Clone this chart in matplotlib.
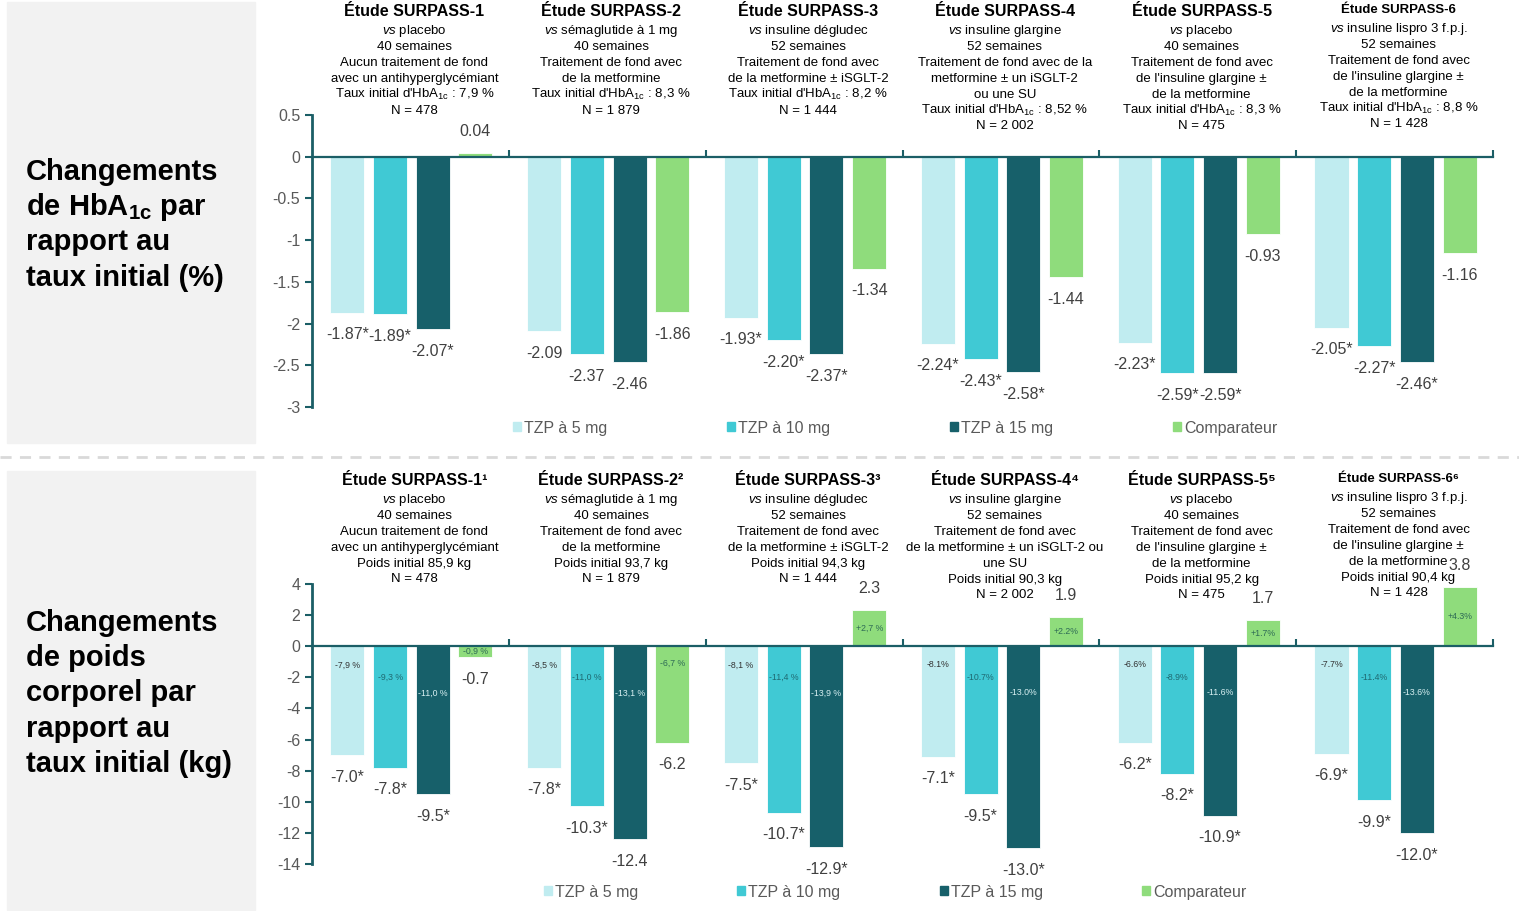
import numpy as np
import matplotlib.pyplot as plt
from matplotlib.patches import Rectangle, Patch
from matplotlib.lines import Line2D
from matplotlib.transforms import blended_transform_factory

plt.rcParams['font.family'] = ['Liberation Sans', 'DejaVu Sans']
plt.rcParams['mathtext.fontset'] = 'custom'
plt.rcParams['mathtext.rm'] = 'Liberation Sans'
plt.rcParams['mathtext.it'] = 'Liberation Sans:italic'
plt.rcParams['mathtext.bf'] = 'Liberation Sans:bold'
plt.rcParams['axes.unicode_minus'] = False

# data
series = ['TZP à 5 mg', 'TZP à 10 mg', 'TZP à 15 mg', 'Comparateur']
colors = ['#c0ecf0', '#40c9d4', '#17606a', '#8fdc7c']

hba1c = [
    [-1.87, -1.89, -2.07, 0.04],
    [-2.09, -2.37, -2.46, -1.86],
    [-1.93, -2.20, -2.37, -1.34],
    [-2.24, -2.43, -2.58, -1.44],
    [-2.23, -2.59, -2.59, -0.93],
    [-2.05, -2.27, -2.46, -1.16],
]
hba1c_sig = [
    [1, 1, 1, 0],
    [0, 0, 0, 0],
    [1, 1, 1, 0],
    [1, 1, 1, 0],
    [1, 1, 1, 0],
    [1, 1, 1, 0],
]
weight = [
    [-7.0, -7.8, -9.5, -0.7],
    [-7.8, -10.3, -12.4, -6.2],
    [-7.5, -10.7, -12.9, 2.3],
    [-7.1, -9.5, -13.0, 1.9],
    [-6.2, -8.2, -10.9, 1.7],
    [-6.9, -9.9, -12.0, 3.8],
]
weight_sig = [
    [1, 1, 1, 0],
    [1, 1, 0, 0],
    [1, 1, 1, 0],
    [1, 1, 1, 0],
    [1, 1, 1, 0],
    [1, 1, 1, 0],
]
weight_pct = [
    ['-7,9 %', '-9,3 %', '-11,0 %', '-0,9 %'],
    ['-8,5 %', '-11,0 %', '-13,1 %', '-6,7 %'],
    ['-8,1 %', '-11,4 %', '-13,9 %', '+2,7 %'],
    ['-8.1%', '-10.7%', '-13.0%', '+2.2%'],
    ['-6.6%', '-8.9%', '-11.6%', '+1.7%'],
    ['-7.7%', '-11.4%', '-13.6%', '+4.3%'],
]

vs = r'$\it{vs}$ '
hb = r"Taux initial d'HbA$_{\mathrm{1c}}$ : "
top_titles = ['Étude SURPASS-1', 'Étude SURPASS-2', 'Étude SURPASS-3',
              'Étude SURPASS-4', 'Étude SURPASS-5', 'Étude SURPASS-6']
bot_titles = ['Étude SURPASS-1¹', 'Étude SURPASS-2²', 'Étude SURPASS-3³',
              'Étude SURPASS-4⁴', 'Étude SURPASS-5⁵', 'Étude SURPASS-6⁶']
top_headers = [
    [vs + 'placebo', '40 semaines', 'Aucun traitement de fond', 'avec un antihyperglycémiant', hb + '7,9 %', 'N = 478'],
    [vs + 'sémaglutide à 1 mg', '40 semaines', 'Traitement de fond avec', 'de la metformine', hb + '8,3 %', 'N = 1 879'],
    [vs + 'insuline dégludec', '52 semaines', 'Traitement de fond avec', 'de la metformine ± iSGLT-2', hb + '8,2 %', 'N = 1 444'],
    [vs + 'insuline glargine', '52 semaines', 'Traitement de fond avec de la', 'metformine ± un iSGLT-2', 'ou une SU', hb + '8,52 %', 'N = 2 002'],
    [vs + 'placebo', '40 semaines', 'Traitement de fond avec', "de l'insuline glargine ±", 'de la metformine', hb + '8,3 %', 'N = 475'],
    [vs + 'insuline lispro 3 f.p.j.', '52 semaines', 'Traitement de fond avec', "de l'insuline glargine ±", 'de la metformine', hb + '8,8 %', 'N = 1 428'],
]
bot_headers = [
    [vs + 'placebo', '40 semaines', 'Aucun traitement de fond', 'avec un antihyperglycémiant', 'Poids initial 85,9 kg', 'N = 478'],
    [vs + 'sémaglutide à 1 mg', '40 semaines', 'Traitement de fond avec', 'de la metformine', 'Poids initial 93,7 kg', 'N = 1 879'],
    [vs + 'insuline dégludec', '52 semaines', 'Traitement de fond avec', 'de la metformine ± iSGLT-2', 'Poids initial 94,3 kg', 'N = 1 444'],
    [vs + 'insuline glargine', '52 semaines', 'Traitement de fond avec', 'de la metformine ± un iSGLT-2 ou', 'une SU', 'Poids initial 90,3 kg', 'N = 2 002'],
    [vs + 'placebo', '40 semaines', 'Traitement de fond avec', "de l'insuline glargine ±", 'de la metformine', 'Poids initial 95,2 kg', 'N = 475'],
    [vs + 'insuline lispro 3 f.p.j.', '52 semaines', 'Traitement de fond avec', "de l'insuline glargine ±", 'de la metformine', 'Poids initial 90,4 kg', 'N = 1 428'],
]

W, H = 1519, 911
fig = plt.figure(figsize=(W / 100, H / 100), dpi=100)
teal = '#1b5e66'
grey = '#595959'
dark = '#404040'

def px(x0, y0, x1, y1):
    return [x0 / W, 1 - y1 / H, (x1 - x0) / W, (y1 - y0) / H]

# grey side panels and separator
for y0, y1 in [(2, 443), (471, 910)]:
    fig.patches.append(Rectangle((7 / W, 1 - y1 / H), 248 / W, (y1 - y0) / H,
                                 transform=fig.transFigure, color='#f2f2f2', zorder=0))
fig.add_artist(Line2D([0, 1], [1 - 457 / H] * 2, transform=fig.transFigure,
                      color='#d9d9d9', lw=2, ls=(0, (4, 3))))

def side_text(lines, y_first):
    for i, t in enumerate(lines):
        fig.text(26 / W, 1 - (y_first + i * 35.2) / H, t, fontsize=21,
                 fontweight='bold', ha='left', va='center', color='black')

side_text(['Changements', r'de HbA$_{\mathbf{1c}}$ par', 'rapport au', 'taux initial (%)'], 172)
side_text(['Changements', 'de poids', 'corporel par', 'rapport au', 'taux initial (kg)'], 623)

step = 0.217
bw = 0.173
xg = np.arange(6) + 0.505

def draw(ax, vals, sig, fmt, ylim, yticks, pct=None):
    vals = np.array(vals)
    for k in range(4):
        xs = xg + (k - 1.5) * step
        ax.bar(xs, vals[:, k], bw, color=colors[k], edgecolor='white', lw=0.6, zorder=2)
        for g in range(6):
            v = vals[g, k]
            lab = fmt.format(v) + ('*' if sig[g][k] else '')
            off = 15.5 if v > 0 else -16
            ax.annotate(lab, (xs[g], v), xytext=(0, off), textcoords='offset points',
                        ha='center', va='center', fontsize=11.5, color=dark)
            if pct is not None:
                if v > 0:
                    yy = v / 2
                elif k == 3:
                    yy = max(v / 2, -1.1)
                else:
                    yy = [-1.2, -2.0, -3.0][k]
                tc = ['#333333', '#1f6a72', '#d8f0f2', '#2e6b55'][k]
                ax.text(xs[g], yy, pct[g][k], ha='center', va='center',
                        fontsize=6.3, color=tc, zorder=3)
    ax.set_xlim(0, 6)
    ax.set_ylim(*ylim)
    ax.set_yticks(yticks)
    ax.set_yticklabels(['{:g}'.format(t) for t in yticks])
    ax.set_xticks(np.arange(1, 7))
    ax.set_xticklabels([])
    for s in ['top', 'right']:
        ax.spines[s].set_visible(False)
    ax.spines['bottom'].set_position(('data', 0))
    ax.spines['bottom'].set_color(teal)
    ax.spines['bottom'].set_linewidth(1.6)
    ax.spines['left'].set_color(teal)
    ax.spines['left'].set_linewidth(2)
    ax.tick_params(axis='y', colors=teal, labelcolor=grey, labelsize=11.5, length=5, width=1.5)
    ax.tick_params(axis='x', direction='in', colors=teal, length=5, width=1.5)
    ax.patch.set_alpha(0)

def headers(ax, titles, bodies, y_title):
    tr = blended_transform_factory(ax.transData, fig.transFigure)
    for g in range(6):
        small = g == 5
        yt = y_title - (2 if small else 0)
        xc = xg[g] + 0.015
        ax.text(xc, 1 - yt / H, titles[g], transform=tr, ha='center', va='center',
                fontsize=9.5 if small else 11.5, fontweight='bold', color='black')
        for i, t in enumerate(bodies[g]):
            ax.text(xc, 1 - (yt + 19 + i * 15.9) / H, t, transform=tr, ha='center',
                    va='center', fontsize=9.5, color='black')

ax1 = fig.add_axes(px(312, 115, 1493, 407))
draw(ax1, hba1c, hba1c_sig, '{:.2f}', (-3, 0.5), [0.5, 0, -0.5, -1, -1.5, -2, -2.5, -3])
headers(ax1, top_titles, top_headers, 12)

ax2 = fig.add_axes(px(312, 584, 1493, 864))
draw(ax2, weight, weight_sig, '{:.1f}', (-14, 4), list(range(4, -15, -2)), pct=weight_pct)
headers(ax2, bot_titles, bot_headers, 481)

handles = [Patch(color=c) for c in colors]
for yc, cs in [(428, 7.5), (892, 6.2)]:
    fig.legend(handles, series, loc='center', bbox_to_anchor=(895 / W, 1 - yc / H),
               ncol=4, frameon=False, fontsize=11.5, labelcolor=grey,
               handlelength=0.5, handleheight=0.5, handletextpad=0.2,
               columnspacing=cs, borderpad=0)

fig.savefig('out.png', dpi=100)
